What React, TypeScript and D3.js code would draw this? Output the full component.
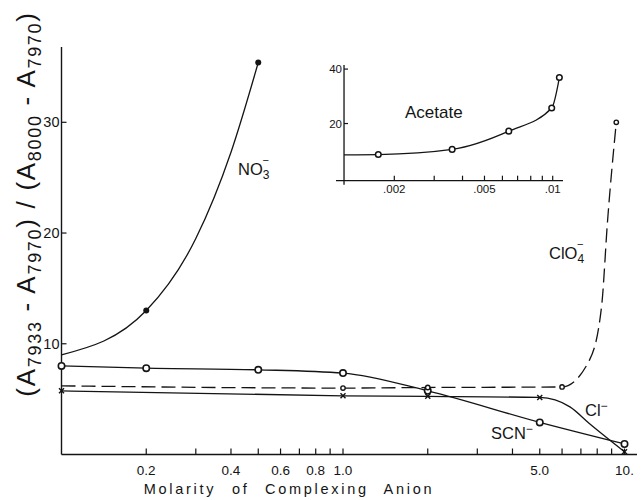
import React from "react";
import * as d3 from "d3";

// ---- data ----
const no3Conc = [0.1, 0.2, 0.3, 0.4, 0.5];
const no3Value = [9.0, 13.0, 19.5, 27.3, 35.4];
const no3Marked = [false, true, false, false, true];

const scnConc = [0.1, 0.2, 0.5, 1.0, 2.0, 5.0, 10.0];
const scnValue = [8.0, 7.8, 7.65, 7.35, 5.75, 2.9, 0.95];

const clConc = [0.1, 1.0, 2.0, 5.0, 6.4, 7.5, 10.0];
const clValue = [5.75, 5.3, 5.25, 5.15, 4.3, 2.8, 0.25];
const clMarked = [true, true, true, true, false, false, true];

const clo4Conc = [0.1, 1.0, 2.0, 6.0, 7.5, 8.3, 8.7, 9.35];
const clo4Value = [6.2, 6.0, 6.05, 6.1, 8.5, 13.5, 21, 30];
const clo4Marked = [false, true, true, true, false, false, false, true];

const acetateConc = [0.0012, 0.0017, 0.0036, 0.0064, 0.0099, 0.0107];
const acetateValue = [8.5, 8.6, 10.5, 17.2, 25.7, 36.9];
const acetateMarked = [false, true, true, true, true, true];

const xMajorTicks = [0.2, 0.4, 0.6, 0.8, 1.0, 5.0, 10];
const xMajorLabels = ["0.2", "0.4", "0.6", "0.8", "1.0", "5.0", "10."];
const xMinorTicks = [0.3, 0.5, 0.7, 0.9, 2, 3, 4, 6, 7, 8, 9];
const yTicks = [10, 20, 30];

const insetXTicks = [0.002, 0.003, 0.004, 0.005, 0.006, 0.007, 0.008, 0.009, 0.01];
const insetXLabelValues = [0.002, 0.005, 0.01];
const insetXLabels = [".002", ".005", ".01"];
const insetYTicks = [20, 40];

const FONT = "'Liberation Sans', Arial, sans-serif";
const INK = "#141414";

type P = [number, number];
const zip = (a: number[], b: number[]): P[] => a.map((v, i) => [v, b[i]]);

export default function App() {
  const x = d3.scaleLog().domain([0.1, 10]).range([61.5, 624.5]);
  const y = d3.scaleLinear().domain([0, 36.8]).range([454.5, 47]);
  const xi = d3.scaleLog().domain([0.002, 0.01]).range([394.3, 552.7]);
  const yi = d3.scaleLinear().domain([-1, 41.5]).range([180.7, 65]);

  const line = d3
    .line<P>()
    .x((d) => x(d[0]))
    .y((d) => y(d[1]))
    .curve(d3.curveMonotoneX);
  const lineInset = d3
    .line<P>()
    .x((d) => xi(d[0]))
    .y((d) => yi(d[1]))
    .curve(d3.curveMonotoneX);

  const no3 = zip(no3Conc, no3Value);
  const scn = zip(scnConc, scnValue);
  const cl = zip(clConc, clValue);
  const clo4 = zip(clo4Conc, clo4Value);
  const ac = zip(acetateConc, acetateValue);

  const x0 = x.range()[0];
  const xEnd = 637;
  const yBase = y(0);
  const yTop = y.range()[1];

  return (
    <svg
      width={641}
      height={500}
      style={{ position: "absolute", left: 0, top: 0, background: "#fff" }}
      fontFamily={FONT}
    >
      <rect x={0} y={0} width={641} height={500} fill="#fff" />
      {/* main axes */}
      <line x1={x0} x2={xEnd} y1={yBase} y2={yBase} stroke={INK} strokeWidth={1.4} />
      <line x1={x0} x2={x0} y1={yTop} y2={yBase} stroke={INK} strokeWidth={1.4} />
      {xMajorTicks.map((t, i) => (
        <g key={"xm" + i}>
          <line x1={x(t)} x2={x(t)} y1={yBase} y2={yBase - 6} stroke={INK} strokeWidth={1.2} />
          <text x={x(t)} y={475} fontSize={13.5} textAnchor="middle" fill={INK}>
            {xMajorLabels[i]}
          </text>
        </g>
      ))}
      {xMinorTicks.map((t, i) => (
        <line key={"xn" + i} x1={x(t)} x2={x(t)} y1={yBase} y2={yBase - 6} stroke={INK} strokeWidth={1.2} />
      ))}
      {yTicks.map((t, i) => (
        <g key={"y" + i}>
          <line x1={x0} x2={x0 + 5} y1={y(t)} y2={y(t)} stroke={INK} strokeWidth={1.2} />
          <text x={x0 - 2} y={y(t) + 5} fontSize={14.5} textAnchor="end" fill={INK}>
            {t}
          </text>
        </g>
      ))}
      <text
        x={289}
        y={494}
        fontSize={14.5}
        textAnchor="middle"
        letterSpacing={2.7}
        wordSpacing={9}
        fill={INK}
      >
        Molarity of Complexing Anion
      </text>
      <text
        transform="translate(35,204) rotate(-90)"
        textAnchor="middle"
        fontSize={26}
        letterSpacing={1.7}
        fill={INK}
      >
        (A
        <tspan fontSize={18} dy={6}>7933</tspan>
        <tspan dy={-6}>{" - A"}</tspan>
        <tspan fontSize={18} dy={6}>7970</tspan>
        <tspan dy={-6}>{") / (A"}</tspan>
        <tspan fontSize={18} dy={6}>8000</tspan>
        <tspan dy={-6}>{" - A"}</tspan>
        <tspan fontSize={18} dy={6}>7970</tspan>
        <tspan dy={-6}>)</tspan>
      </text>

      {/* series lines */}
      <path d={line(no3) || ""} fill="none" stroke={INK} strokeWidth={1.3} />
      <path d={line(scn) || ""} fill="none" stroke={INK} strokeWidth={1.3} />
      <path d={line(cl) || ""} fill="none" stroke={INK} strokeWidth={1.3} />
      <path d={line(clo4) || ""} fill="none" stroke={INK} strokeWidth={1.3} strokeDasharray="14,6" />

      {/* markers */}
      {no3.map((d, i) =>
        no3Marked[i] ? <circle key={"n" + i} cx={x(d[0])} cy={y(d[1])} r={3} fill={INK} /> : null
      )}
      {scn.map((d, i) => (
        <circle key={"s" + i} cx={x(d[0])} cy={y(d[1])} r={3.2} fill="#fff" stroke={INK} strokeWidth={1.6} />
      ))}
      {cl.map((d, i) =>
        clMarked[i] ? (
          <g key={"c" + i} stroke={INK} strokeWidth={1.4}>
            <line x1={x(d[0]) - 2.5} x2={x(d[0]) + 2.5} y1={y(d[1]) - 2.5} y2={y(d[1]) + 2.5} />
            <line x1={x(d[0]) - 2.5} x2={x(d[0]) + 2.5} y1={y(d[1]) + 2.5} y2={y(d[1]) - 2.5} />
          </g>
        ) : null
      )}
      {clo4.map((d, i) =>
        clo4Marked[i] ? (
          <circle key={"p" + i} cx={x(d[0])} cy={y(d[1])} r={2.2} fill="#fff" stroke={INK} strokeWidth={1.4} />
        ) : null
      )}

      {/* series labels */}
      <text x={238} y={175} fontSize={16.5} fill={INK}>
        NO
        <tspan fontSize={12} dy={4}>3</tspan>
        <tspan fontSize={11} dx={-7} dy={-15}>−</tspan>
      </text>
      <text x={549} y={259} fontSize={16.5} fill={INK}>
        ClO
        <tspan fontSize={12} dy={4}>4</tspan>
        <tspan fontSize={11} dx={-7} dy={-15}>−</tspan>
      </text>
      <text x={585} y={416} fontSize={16.5} fill={INK}>
        Cl
        <tspan fontSize={12} dy={-6}>−</tspan>
      </text>
      <text x={491} y={439} fontSize={16.5} fill={INK}>
        SCN
        <tspan fontSize={12} dy={-6}>−</tspan>
      </text>

      {/* inset */}
      <line x1={336} x2={563} y1={yi(-1)} y2={yi(-1)} stroke={INK} strokeWidth={1.3} />
      <line x1={xi(0.0012)} x2={xi(0.0012)} y1={yi(-1) + 4} y2={yi(41.5)} stroke={INK} strokeWidth={1.3} />
      {insetXTicks.map((t, i) => (
        <line key={"ix" + i} x1={xi(t)} x2={xi(t)} y1={yi(-1)} y2={yi(-1) - 5} stroke={INK} strokeWidth={1.2} />
      ))}
      {insetXLabelValues.map((t, i) => (
        <text key={"il" + i} x={xi(t)} y={193} fontSize={11.5} textAnchor="middle" fill={INK}>
          {insetXLabels[i]}
        </text>
      ))}
      {insetYTicks.map((t, i) => (
        <g key={"iy" + i}>
          <line x1={xi(0.0012)} x2={xi(0.0012) + 4} y1={yi(t)} y2={yi(t)} stroke={INK} strokeWidth={1.2} />
          <text x={xi(0.0012) - 2} y={yi(t) + 4} fontSize={11.5} textAnchor="end" fill={INK}>
            {t}
          </text>
        </g>
      ))}
      <path d={lineInset(ac) || ""} fill="none" stroke={INK} strokeWidth={1.3} />
      {ac.map((d, i) =>
        acetateMarked[i] ? (
          <circle key={"a" + i} cx={xi(d[0])} cy={yi(d[1])} r={2.8} fill="#fff" stroke={INK} strokeWidth={1.5} />
        ) : null
      )}
      <text x={405} y={118} fontSize={17} fill={INK}>
        Acetate
      </text>
    </svg>
  );
}
